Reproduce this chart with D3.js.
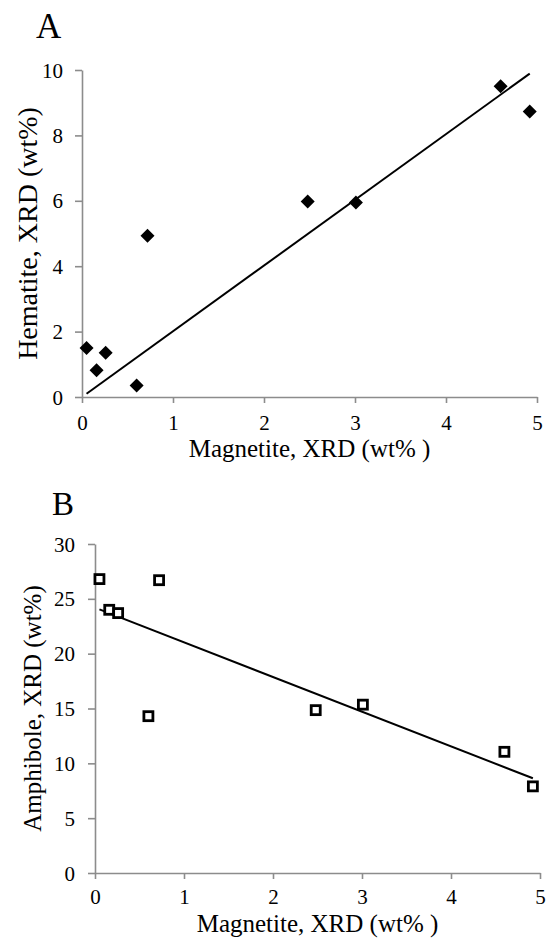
<!DOCTYPE html>
<html><head><meta charset="utf-8">
<script src="https://cdn.jsdelivr.net/npm/d3@7"></script>
<style>
body{margin:0;background:#fff}
svg{display:block}
svg text{font-family:"Liberation Serif","Times New Roman",Times,serif !important;fill:#000}
</style>
</head><body><svg id="c" width="548" height="938"></svg>
<script>
// ---- data ----
const magnetite = [0.05, 0.16, 0.26, 0.60, 0.72, 2.48, 3.01, 4.60, 4.92];
const hematite  = [1.50, 0.82, 1.35, 0.35, 4.93, 5.98, 5.95, 9.50, 8.73];
const amphibole = [26.8, 24.0, 23.7, 14.3, 26.7, 14.85, 15.35, 11.05, 7.9];
const xTicks    = [0, 1, 2, 3, 4, 5];
const hemTicks  = [0, 2, 4, 6, 8, 10];
const amphTicks = [0, 5, 10, 15, 20, 25, 30];
const xTitle = "Magnetite, XRD (wt% )";
const yTitleA = "Hematite, XRD (wt%)";
const yTitleB = "Amphibole, XRD (wt%)";

const FONT = '"Liberation Serif","Times New Roman",Times,serif';
const svg = d3.select("#c");

// linear fits
function fitOrigin(x, y){ const sxy=d3.sum(x,(v,i)=>v*y[i]), sxx=d3.sum(x,v=>v*v); return {a:0,b:sxy/sxx}; }
function fitOLS(x, y){ const mx=d3.mean(x), my=d3.mean(y);
  const sxy=d3.sum(x,(v,i)=>(v-mx)*(y[i]-my)), sxx=d3.sum(x,v=>(v-mx)*(v-mx));
  const b=sxy/sxx; return {a:my-b*mx,b}; }

function panel(cfg){
  const g = svg.append("g");
  const x = d3.scaleLinear().domain([0,5]).range([cfg.x0, cfg.x1]);
  const y = d3.scaleLinear().domain(cfg.yDom).range([cfg.y0, cfg.y1]);

  const xa = g.append("g").attr("transform",`translate(0,${cfg.y0})`)
    .call(d3.axisBottom(x).tickValues(xTicks).tickFormat(d3.format("d")).tickSize(6).tickSizeOuter(0));
  const ya = g.append("g").attr("transform",`translate(${cfg.x0},0)`)
    .call(d3.axisLeft(y).tickValues(cfg.yTicks).tickFormat(d3.format("d")).tickSize(7).tickSizeOuter(0).tickPadding(cfg.yPad));
  [xa, ya].forEach(a=>{
    a.attr("font-family",FONT).attr("font-size",21);
    a.select(".domain").attr("stroke","#8c8c8c").attr("stroke-width",1.6);
    a.selectAll(".tick line").attr("stroke","#8c8c8c").attr("stroke-width",1.6);
    a.selectAll("text").style("font-family",FONT).style("font-size","21px").attr("fill","#000");
  });
  xa.selectAll("text").attr("y",cfg.xLabY).attr("dy",0);
  ya.selectAll("text").attr("dy","0.34em");

  // trendline
  const f = cfg.fit;
  const xe = d3.extent(magnetite);
  g.append("line")
    .attr("x1",x(xe[0])).attr("y1",y(f.a+f.b*xe[0]))
    .attr("x2",x(xe[1])).attr("y2",y(f.a+f.b*xe[1]))
    .attr("stroke","#000").attr("stroke-width",2);

  // markers
  const pts = magnetite.map((m,i)=>[m, cfg.vals[i]]);
  if(cfg.marker==="diamond"){
    g.selectAll("path.m").data(pts).join("path").attr("class","m")
      .attr("transform",d=>`translate(${x(d[0])},${y(d[1])})`)
      .attr("d","M0,-7L7,0L0,7L-7,0Z").attr("fill","#000");
  } else {
    g.selectAll("rect.m").data(pts).join("rect").attr("class","m")
      .attr("x",d=>x(d[0])-4.5).attr("y",d=>y(d[1])-4.5)
      .attr("width",9).attr("height",9)
      .attr("fill","#fff").attr("stroke","#000").attr("stroke-width",2.8);
  }

  // titles
  g.append("text").attr("x",(cfg.x0+cfg.x1)/2).attr("y",cfg.y0+cfg.xTitleDy)
    .attr("text-anchor","middle").style("font-family",FONT).style("font-size","25px")
    .text(xTitle);
  g.append("text")
    .attr("transform",`translate(${cfg.yTitleX},${(cfg.y0+cfg.y1)/2}) rotate(-90)`)
    .attr("text-anchor","middle").style("font-family",FONT).style("font-size",cfg.yTitleSize+"px")
    .text(cfg.yTitle);
  g.append("text").attr("x",cfg.lx).attr("y",cfg.ly)
    .style("font-family",FONT).style("font-size",cfg.lsize+"px").text(cfg.label);
}

panel({x0:82, x1:537, y0:397, y1:70, yDom:[0,10], yTicks:hemTicks, vals:hematite,
  fit:fitOrigin(magnetite,hematite), marker:"diamond", yPad:12, xLabY:33,
  xTitleDy:60, yTitleX:37, yTitleSize:28, yTitle:yTitleA, label:"A", lx:36, ly:38, lsize:35});

panel({x0:95, x1:540, y0:873, y1:544, yDom:[0,30], yTicks:amphTicks, vals:amphibole,
  fit:fitOLS(magnetite,amphibole), marker:"square", yPad:13, xLabY:31,
  xTitleDy:59, yTitleX:41, yTitleSize:25, yTitle:yTitleB, label:"B", lx:52, ly:515, lsize:33});
</script>
</body></html>
